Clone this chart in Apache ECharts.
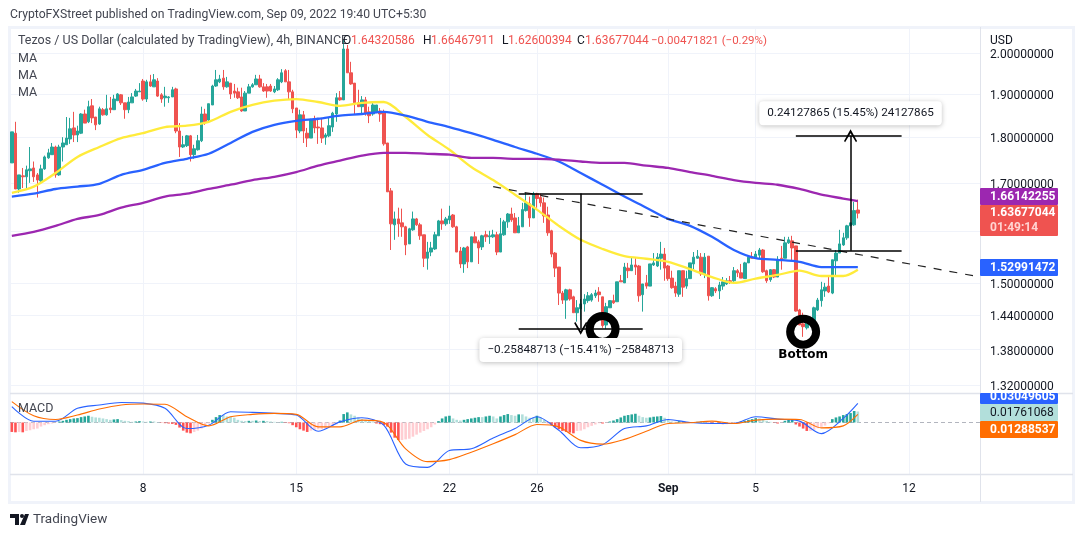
<!DOCTYPE html>
<html>
<head>
<meta charset="utf-8">
<title>Tezos / US Dollar</title>
<script src="https://cdn.jsdelivr.net/npm/echarts@6/dist/echarts.min.js"></script>
<style>
html, body { margin: 0; padding: 0; background: #fff; }
#chart { width: 1078px; height: 537px; }
</style>
</head>
<body>
<div id="chart"></div>
<script>
// 4h candles, Aug 2 - Sep 9
var opens = [
1.743,1.809,1.687,1.715,1.713,1.726,1.732,1.717,1.704,1.730,1.754,1.761,1.778,1.717,1.778,1.783,1.796,1.821,1.805,1.809,
1.853,1.835,1.872,1.846,1.830,1.863,1.851,1.867,1.863,1.884,1.898,1.879,1.863,1.879,1.895,1.905,1.931,1.888,1.929,1.917,
1.931,1.898,1.891,1.891,1.893,1.912,1.814,1.778,1.781,1.803,1.761,1.772,1.792,1.853,1.839,1.874,1.919,1.929,1.938,1.917,
1.926,1.907,1.905,1.893,1.860,1.902,1.917,1.922,1.936,1.917,1.917,1.919,1.905,1.910,1.929,1.956,1.929,1.905,1.867,1.814,
1.851,1.809,1.798,1.842,1.823,1.821,1.800,1.803,1.823,1.853,1.891,1.886,2.010,1.951,1.926,1.879,1.870,1.886,1.858,1.853,
1.858,1.860,1.858,1.787,1.683,1.613,1.625,1.617,1.609,1.575,1.603,1.625,1.613,1.593,1.547,1.559,1.565,1.591,1.621,1.615,
1.623,1.633,1.609,1.561,1.536,1.569,1.540,1.589,1.579,1.569,1.593,1.589,1.589,1.593,1.559,1.593,1.619,1.635,1.627,1.597,
1.609,1.642,1.656,1.627,1.677,1.669,1.658,1.633,1.601,1.557,1.530,1.481,1.468,1.487,1.474,1.445,1.452,1.461,1.467,1.468,
1.476,1.483,1.474,1.423,1.454,1.467,1.465,1.504,1.500,1.528,1.523,1.534,1.532,1.478,1.500,1.494,1.534,1.532,1.547,1.555,
1.532,1.509,1.494,1.479,1.523,1.494,1.508,1.536,1.547,1.549,1.517,1.551,1.476,1.489,1.485,1.494,1.498,1.504,1.504,1.523,
1.519,1.508,1.538,1.549,1.549,1.553,1.563,1.523,1.506,1.525,1.511,1.547,1.547,1.577,1.581,1.571,1.450,1.425,1.418,1.429,
1.429,1.450,1.467,1.485,1.494,1.481,1.542,1.557,1.573,1.587,1.611,1.613,1.6432
];
var closes = [
1.812,1.687,1.717,1.713,1.728,1.730,1.713,1.706,1.730,1.756,1.765,1.778,1.717,1.778,1.787,1.798,1.819,1.805,1.814,1.853,
1.832,1.870,1.844,1.828,1.865,1.851,1.865,1.863,1.888,1.900,1.879,1.863,1.881,1.893,1.907,1.907,1.888,1.929,1.919,1.934,
1.895,1.888,1.895,1.893,1.910,1.814,1.778,1.783,1.803,1.761,1.774,1.792,1.853,1.835,1.877,1.919,1.934,1.936,1.917,1.929,
1.900,1.902,1.891,1.860,1.902,1.917,1.922,1.936,1.917,1.907,1.907,1.907,1.912,1.934,1.951,1.929,1.905,1.865,1.816,1.851,
1.814,1.798,1.839,1.821,1.821,1.798,1.805,1.826,1.855,1.891,1.886,2.010,1.951,1.924,1.879,1.870,1.886,1.855,1.849,1.874,
1.874,1.853,1.785,1.681,1.615,1.625,1.615,1.609,1.573,1.605,1.625,1.613,1.591,1.547,1.559,1.567,1.593,1.621,1.615,1.625,
1.631,1.609,1.559,1.536,1.567,1.540,1.589,1.577,1.567,1.591,1.589,1.591,1.593,1.559,1.595,1.619,1.635,1.623,1.597,1.611,
1.644,1.658,1.627,1.677,1.667,1.658,1.631,1.597,1.555,1.528,1.481,1.468,1.487,1.470,1.445,1.454,1.461,1.470,1.476,1.478,
1.481,1.478,1.422,1.456,1.467,1.463,1.502,1.502,1.530,1.523,1.534,1.530,1.476,1.498,1.494,1.536,1.538,1.549,1.555,1.528,
1.508,1.491,1.481,1.523,1.492,1.508,1.538,1.549,1.551,1.517,1.549,1.476,1.491,1.485,1.496,1.502,1.504,1.502,1.523,1.519,
1.509,1.538,1.549,1.547,1.555,1.563,1.521,1.504,1.525,1.511,1.544,1.546,1.577,1.583,1.567,1.448,1.423,1.420,1.427,1.427,
1.454,1.468,1.487,1.492,1.483,1.544,1.557,1.575,1.587,1.611,1.617,1.642,1.6368
];
var lows = [
1.743,1.687,1.679,1.689,1.685,1.700,1.702,1.669,1.702,1.728,1.752,1.761,1.711,1.715,1.746,1.783,1.785,1.789,1.789,1.807,
1.832,1.832,1.832,1.816,1.828,1.849,1.849,1.855,1.863,1.884,1.874,1.842,1.855,1.879,1.893,1.905,1.884,1.881,1.917,1.917,
1.893,1.879,1.870,1.879,1.893,1.809,1.756,1.776,1.778,1.746,1.752,1.770,1.789,1.828,1.837,1.874,1.917,1.926,1.910,1.915,
1.888,1.891,1.888,1.858,1.860,1.902,1.915,1.922,1.915,1.905,1.891,1.905,1.902,1.907,1.926,1.929,1.886,1.855,1.798,1.809,
1.787,1.778,1.798,1.809,1.785,1.787,1.783,1.800,1.812,1.835,1.884,1.886,1.951,1.922,1.853,1.870,1.853,1.849,1.832,1.849,
1.855,1.835,1.781,1.681,1.563,1.583,1.589,1.589,1.553,1.575,1.601,1.611,1.583,1.530,1.525,1.551,1.563,1.591,1.603,1.611,
1.615,1.607,1.559,1.528,1.519,1.528,1.540,1.577,1.536,1.563,1.579,1.575,1.587,1.553,1.559,1.591,1.607,1.619,1.597,1.597,
1.609,1.640,1.609,1.627,1.648,1.650,1.617,1.591,1.549,1.511,1.459,1.461,1.434,1.467,1.445,1.429,1.432,1.447,1.463,1.465,
1.472,1.465,1.418,1.416,1.454,1.461,1.465,1.502,1.500,1.509,1.523,1.515,1.465,1.447,1.489,1.494,1.532,1.530,1.525,1.504,
1.504,1.489,1.474,1.474,1.474,1.489,1.508,1.526,1.546,1.513,1.509,1.467,1.474,1.481,1.470,1.487,1.496,1.498,1.502,1.511,
1.509,1.508,1.538,1.547,1.547,1.547,1.519,1.500,1.502,1.509,1.511,1.525,1.547,1.575,1.542,1.447,1.423,1.402,1.415,1.423,
1.423,1.448,1.456,1.474,1.481,1.479,1.511,1.557,1.571,1.583,1.611,1.611,1.6260
];
var highs = [
1.812,1.835,1.717,1.732,1.737,1.778,1.746,1.721,1.739,1.759,1.774,1.787,1.781,1.783,1.800,1.846,1.844,1.858,1.826,1.855,
1.863,1.884,1.888,1.846,1.870,1.867,1.898,1.893,1.898,1.902,1.900,1.879,1.893,1.902,1.912,1.926,1.936,1.934,1.946,1.948,
1.938,1.902,1.917,1.895,1.917,1.915,1.832,1.803,1.805,1.805,1.783,1.805,1.870,1.865,1.877,1.922,1.958,1.946,1.958,1.941,
1.926,1.924,1.915,1.915,1.907,1.924,1.926,1.946,1.946,1.926,1.924,1.924,1.919,1.938,1.960,1.960,1.958,1.910,1.867,1.863,
1.860,1.821,1.842,1.849,1.844,1.844,1.809,1.844,1.858,1.902,1.907,2.033,2.020,1.978,1.926,1.910,1.895,1.893,1.870,1.879,
1.874,1.867,1.863,1.787,1.689,1.640,1.648,1.646,1.611,1.607,1.640,1.627,1.617,1.593,1.579,1.579,1.599,1.623,1.646,1.629,
1.652,1.635,1.611,1.569,1.569,1.571,1.589,1.599,1.583,1.593,1.601,1.601,1.603,1.599,1.627,1.623,1.637,1.648,1.637,1.629,
1.658,1.679,1.671,1.681,1.679,1.677,1.669,1.650,1.603,1.559,1.530,1.485,1.489,1.489,1.476,1.468,1.470,1.479,1.483,1.481,
1.487,1.492,1.474,1.463,1.468,1.478,1.502,1.515,1.538,1.538,1.549,1.547,1.534,1.498,1.515,1.536,1.557,1.557,1.579,1.567,
1.534,1.523,1.502,1.523,1.523,1.523,1.538,1.559,1.563,1.557,1.557,1.551,1.492,1.492,1.502,1.511,1.509,1.513,1.530,1.526,
1.536,1.540,1.553,1.559,1.561,1.567,1.565,1.525,1.526,1.526,1.551,1.571,1.589,1.589,1.591,1.571,1.452,1.445,1.429,1.438,
1.456,1.472,1.502,1.500,1.511,1.544,1.563,1.603,1.597,1.613,1.617,1.660,1.6647
];

// moving averages and MACD lines, read every sixth candle
var lineIdx = [0,6,12,18,24,30,36,42,48,54,60,66,72,78,84,90,96,102,108,114,120,126,132,138,144,150,156,162,168,174,180,186,192,198,204,210,216,222,228,232];
var ma50 = [1.679,1.692,1.721,1.756,1.778,1.798,1.809,1.823,1.826,1.835,1.858,1.874,1.884,1.888,1.881,1.872,1.879,1.881,1.846,1.805,1.772,1.734,1.706,1.675,1.644,1.611,1.583,1.565,1.551,1.546,1.540,1.526,1.511,1.500,1.508,1.515,1.523,1.513,1.513,1.525];
var ma100 = [1.671,1.677,1.687,1.692,1.698,1.717,1.728,1.743,1.752,1.763,1.787,1.812,1.828,1.837,1.842,1.849,1.853,1.858,1.849,1.835,1.823,1.809,1.794,1.778,1.763,1.746,1.721,1.696,1.671,1.648,1.625,1.611,1.589,1.563,1.547,1.544,1.540,1.530,1.530,1.5299];
var ma200 = [1.591,1.599,1.611,1.625,1.633,1.648,1.658,1.671,1.677,1.687,1.696,1.706,1.713,1.723,1.737,1.748,1.759,1.765,1.765,1.763,1.761,1.754,1.754,1.752,1.752,1.750,1.746,1.743,1.743,1.737,1.732,1.723,1.715,1.706,1.700,1.696,1.687,1.675,1.667,1.6614];
var macdLine = [.0254,.002,.002,.0227,.028,.032,.031,.0227,-.0097,-.0043,.0173,.0162,.0146,.0119,-.014,.001,.0076,-.0043,-.0664,-.0718,-.0448,-.0421,-.0248,-.0097,.0092,-.0124,-.0405,-.0356,-.0097,-.0054,.0049,0,-.0016,-.0016,.0092,.0054,.0022,-.0178,.0065,.0305];
var signalLine = [.0335,.0108,.0049,.0119,.0216,.0281,.0297,.0292,.0092,-.0054,.0092,.013,.0146,.013,-.007,-.007,.0038,0,-.0421,-.0626,-.0594,-.0475,-.034,-.0194,-.0032,-.007,-.0286,-.0346,-.027,-.014,-.0016,-.0005,.0022,-.0016,.0038,.0054,.0049,-.0086,-.0054,.0129];
var histValues = [
-.0151,-.0157,-.0151,-.0157,-.0135,-.0124,-.0108,-.0097,-.0065,-.0043,-.0027,-.0016,-.0005,.0016,.0027,.0043,.0054,.0065,.007,.0086,
.0097,.0108,.0092,.0081,.0076,.0065,.0054,.0043,.0049,.0054,.0038,.0027,.0022,.0011,.0016,.0022,.0016,.0011,.0016,.0016,
.0005,-.0005,-.0011,-.0016,-.0022,-.0038,-.0081,-.013,-.0162,-.0173,-.0151,-.013,-.0097,-.0054,-.0016,.0043,.0086,.0119,.0119,.0097,
.0097,.0076,.0043,.0027,.0022,.0027,.0027,.0032,.0022,.0027,.0022,.0016,.0011,.0005,.0011,-.0005,-.0011,-.0043,-.0076,-.0108,
-.013,-.0151,-.013,-.0119,-.0108,-.0108,-.0097,-.0076,-.0054,-.0032,.0032,.0135,.0162,.013,.0108,.0081,.0054,.0043,.0032,.0016,
-.0016,-.0027,-.0043,-.0065,-.0162,-.0243,-.0281,-.0281,-.027,-.0259,-.0227,-.0194,-.0162,-.0135,-.0108,-.0076,-.0032,.0022,.0065,.0097,
.0108,.0065,.0043,.0032,.0043,.0054,.0065,.0076,.0086,.0086,.0097,.0108,.0097,.0065,.0097,.0119,.0135,.0119,.0108,.013,
.013,.0097,.0076,.0076,.0108,.0081,.0043,-.0011,-.0043,-.0081,-.0108,-.0135,-.0151,-.0162,-.0173,-.0135,-.013,-.0108,-.0076,-.0054,
-.0032,-.0011,-.0016,-.0005,.0016,.0032,.0054,.0081,.0108,.0119,.013,.014,.0108,.0086,.0076,.0081,.0092,.0097,.0103,.0076,
.0043,.0016,.0011,.0022,.0005,-.0005,-.0005,.0005,.0011,.0016,.0011,-.0005,-.0016,-.0016,-.0022,-.0027,-.0027,-.0016,-.0011,.0003,
.0016,.0027,.0043,.0054,.007,.0065,.0043,.0027,.0011,-.0005,-.0016,-.0005,.0027,.0043,.0054,-.0032,-.0065,-.0097,-.0135,-.0135,
-.0119,-.0092,-.007,-.0049,-.0011,.0054,.0081,.0097,.0119,.0135,.0151,.0184,.0176
];

// axis ticks
var priceTicks = [2, 1.9, 1.8, 1.7, 1.6, 1.5, 1.44, 1.38, 1.32];
var timeTickIdx = [36, 78, 120, 144, 180, 204, 246];
var timeTickNames = ['8', '15', '22', '26', 'Sep', '5', '12'];

// drawings on the price pane, as [candle index, price]
var trendLine = [[132, 1.692], [264, 1.513]];
var dropRange = [1.6776, 1.417];
var riseRange = [1.5617, 1.803];
var ringPoints = [[162, 1.416], [217, 1.411]];

var categories = [];
for (var i = 0; i < 266; i++) { categories.push(String(i)); }

function pairs(values) {
  return values.map(function(v, i) { return [lineIdx[i], v]; });
}
function histColor(i) {
  var v = histValues[i], prev = i > 0 ? histValues[i - 1] : 0;
  if (v >= 0) { return v > prev ? '#26a69a' : '#b2dfdb'; }
  return v < prev ? '#ff5252' : '#ffcdd2';
}
function seg(x1, y1, x2, y2, extra, endExtra) {
  return [Object.assign({ coord: [x1, y1] }, extra || {}), Object.assign({ coord: [x2, y2] }, endExtra || {})];
}

var font = 'Roboto, sans-serif';
var ink = '#131722';
var gridColor = '#f0f3fa';
var frameColor = '#e0e3eb';
var chevron = 'path://M-5 6 L0 0 L5 6 L4.2 6.7 L0 2 L-4.2 6.7Z';

var gridLines = priceTicks.map(function(p) {
  return { yAxis: p, label: { formatter: p.toFixed(8) } };
}).concat(timeTickIdx.map(function(t) {
  return { xAxis: t, label: { show: false } };
}));

function textEl(x, y, text, size, color, weight, align) {
  return {
    type: 'text', z: 50, x: x, y: y,
    style: { text: text, font: (weight || 'normal') + ' ' + size + 'px ' + font, fill: color, verticalAlign: 'middle', align: align || 'left' }
  };
}
function tag(y, h, color) {
  return { type: 'rect', z: 40, shape: { x: 980, y: y, width: 78, height: h, r: 1 }, style: { fill: color } };
}

var graphics = [
  { type: 'rect', z: -1, shape: { x: 9.5, y: 27.5, width: 1064, height: 475 }, style: { fill: 'none', stroke: gridColor, lineWidth: 3 } },
  { type: 'line', z: 30, shape: { x1: 980.5, y1: 27, x2: 980.5, y2: 502 }, style: { stroke: frameColor } },
  { type: 'line', z: 30, shape: { x1: 10, y1: 393.5, x2: 1073, y2: 393.5 }, style: { stroke: frameColor, lineWidth: 1.5 } },
  { type: 'line', z: 30, shape: { x1: 10, y1: 474.5, x2: 1073, y2: 474.5 }, style: { stroke: frameColor, lineWidth: 1.5 } },
  textEl(10, 15, 'CryptoFXStreet published on TradingView.com, Sep 09, 2022 19:40 UTC+5:30', 12.2, '#434651'),
  textEl(18, 41, 'Tezos / US Dollar (calculated by TradingView), 4h, BINANCE', 12.5, '#434651'),
  textEl(343, 41, 'O', 12, ink),
  textEl(351, 41, '1.64320586', 12, '#ef5350'),
  textEl(423, 41, 'H', 12, ink),
  textEl(431, 41, '1.66467911', 12, '#ef5350'),
  textEl(502, 41, 'L', 12, ink),
  textEl(508, 41, '1.62600394', 12, '#ef5350'),
  textEl(577, 41, 'C', 12, ink),
  textEl(585, 41, '1.63677044', 12, '#ef5350'),
  textEl(651, 41, '\u22120.00471821 (\u22120.29%)', 11.5, '#ef5350'),
  textEl(18, 59, 'MA', 12.5, '#434651'),
  textEl(18, 76, 'MA', 12.5, '#434651'),
  textEl(18, 93, 'MA', 12.5, '#434651'),
  textEl(18, 409, 'MACD', 12.5, '#434651'),
  textEl(990, 41, 'USD', 12, ink),
  tag(188, 17, '#9c27b0'),
  textEl(990, 197, '1.66142255', 12, '#fff', 'bold'),
  tag(205, 31, '#ef5350'),
  textEl(990, 213, '1.63677044', 12, '#fff', 'bold'),
  textEl(990, 228, '01:49:14', 12, '#ffd4d2', 'bold'),
  tag(259, 17, '#2962ff'),
  textEl(990, 268, '1.52991472', 12, '#fff', 'bold'),
  tag(393, 11, '#2962ff'),
  textEl(990, 397, '0.03049605', 12, '#fff', 'bold'),
  { type: 'rect', z: 55, shape: { x: 981, y: 391, width: 78, height: 2 }, style: { fill: '#fff' } },
  tag(404, 17, '#b2dfdb'),
  textEl(990, 413, '0.01761068', 12, ink),
  tag(421, 17, '#ff6d00'),
  textEl(990, 430, '0.01288537', 12, '#fff', 'bold'),
  { type: 'polygon', z: 50, shape: { points: [[10, 514], [19, 514], [19, 525], [15, 525], [15, 518], [10, 518]] }, style: { fill: ink } },
  { type: 'circle', z: 50, shape: { cx: 22, cy: 516, r: 2 }, style: { fill: ink } },
  { type: 'polygon', z: 50, shape: { points: [[25, 514], [29, 514], [25, 525], [20, 525]] }, style: { fill: ink } },
  textEl(33, 520, 'TradingView', 13.5, '#434651')
];

var option = {
  animation: false,
  backgroundColor: '#fff',
  textStyle: { fontFamily: font },
  graphic: graphics,
  grid: [
    { left: 10, right: 98, top: 27, height: 366 },
    { left: 10, right: 98, top: 393, height: 81 }
  ],
  xAxis: [
    { type: 'category', gridIndex: 0, data: categories, axisLine: { show: false }, axisTick: { show: false }, axisLabel: { show: false }, splitLine: { show: false } },
    {
      type: 'category', gridIndex: 1, data: categories,
      axisLine: { show: false }, axisTick: { show: false }, splitLine: { show: false },
      axisLabel: {
        interval: function(i) { return timeTickIdx.indexOf(i) >= 0; },
        formatter: function(v, i) {
          var name = timeTickNames[timeTickIdx.indexOf(i)];
          return name === 'Sep' ? '{m|Sep}' : name;
        },
        rich: { m: { fontWeight: 'bold', color: ink, fontSize: 12 } },
        color: ink, fontSize: 12, margin: 9
      }
    }
  ],
  yAxis: [
    { type: 'log', gridIndex: 0, min: 1.3069, max: 2.0661, axisLine: { show: false }, axisTick: { show: false }, axisLabel: { show: false }, splitLine: { show: false } },
    { type: 'value', gridIndex: 1, min: -0.0824, max: 0.0472, axisLine: { show: false }, axisTick: { show: false }, axisLabel: { show: false }, splitLine: { show: false } }
  ],
  series: [
    {
      type: 'candlestick', name: 'XTZUSD', xAxisIndex: 0, yAxisIndex: 0, z: 3, barWidth: 3,
      data: opens.map(function(o, i) { return [o, closes[i], lows[i], highs[i]]; }),
      itemStyle: { color: '#26a69a', color0: '#ef5350', borderColor: '#26a69a', borderColor0: '#ef5350', borderWidth: 1 },
      markLine: {
        silent: true, symbol: 'none', z: 1, animation: false,
        lineStyle: { color: gridColor, type: 'solid', width: 1 },
        label: { position: 'end', distance: 10, offset: [0, 2], color: ink, fontSize: 12, fontFamily: font },
        data: gridLines
      }
    },
    { type: 'line', name: 'MA50', xAxisIndex: 0, yAxisIndex: 0, z: 4, smooth: 0.3, symbol: 'none', lineStyle: { color: '#ffeb3b', width: 2.3 }, data: pairs(ma50) },
    { type: 'line', name: 'MA100', xAxisIndex: 0, yAxisIndex: 0, z: 4, smooth: 0.3, symbol: 'none', lineStyle: { color: '#2962ff', width: 2.3 }, data: pairs(ma100) },
    { type: 'line', name: 'MA200', xAxisIndex: 0, yAxisIndex: 0, z: 4, smooth: 0.3, symbol: 'none', lineStyle: { color: '#9c27b0', width: 2.3 }, data: pairs(ma200) },
    {
      type: 'scatter', name: 'Bottom', xAxisIndex: 0, yAxisIndex: 0, z: 6, symbol: 'circle', symbolSize: 26, data: ringPoints,
      itemStyle: { color: 'rgba(0,0,0,0)', borderColor: '#000', borderWidth: 8, opacity: 1 },
      label: {
        show: true, position: 'bottom', distance: 0, color: '#000', fontSize: 12, fontWeight: 'bold', fontFamily: 'DejaVu Sans',
        formatter: function(p) { return p.dataIndex === 1 ? 'Bottom' : ''; }
      }
    },
    {
      type: 'line', name: 'drawings', xAxisIndex: 0, yAxisIndex: 0, z: 5, symbol: 'none', lineStyle: { width: 0 }, data: [],
      markLine: {
        silent: true, animation: false, symbol: 'none', z: 5,
        label: { show: false },
        lineStyle: { color: '#000', width: 1.5, type: 'solid' },
        data: [
          seg(trendLine[0][0], trendLine[0][1], trendLine[1][0], trendLine[1][1], { lineStyle: { type: [8, 8], width: 1.2, color: '#222' } }),
          seg(139, dropRange[0], 173, dropRange[0]),
          seg(139, dropRange[1], 173, dropRange[1]),
          seg(156, dropRange[0], 156, dropRange[1], null, { symbol: chevron, symbolSize: 13 }),
          seg(215, riseRange[0], 244, riseRange[0]),
          seg(215, riseRange[1], 244, riseRange[1]),
          seg(229.5, riseRange[0], 229.5, riseRange[1], null, { symbol: chevron, symbolSize: 13 })
        ]
      },
      markPoint: {
        silent: true, animation: false, symbol: 'circle', symbolSize: 0, z: 7,
        label: {
          show: true, position: 'inside', color: ink, fontSize: 11.7, fontFamily: font,
          backgroundColor: '#fff', borderRadius: 4, padding: [6, 8],
          shadowColor: 'rgba(0,0,0,0.25)', shadowBlur: 5, shadowOffsetY: 1
        },
        data: [
          { coord: [156, 1.379], value: '\u22120.25848713 (\u221215.41%) \u221225848713', label: { formatter: '{c}' } },
          { coord: [230, 1.855], value: '0.24127865 (15.45%) 24127865', label: { formatter: '{c}' } }
        ]
      }
    },
    {
      type: 'bar', name: 'Histogram', xAxisIndex: 1, yAxisIndex: 1, barWidth: 2.6, z: 2,
      data: histValues.map(function(v, i) { return { value: v, itemStyle: { color: histColor(i) } }; }),
      markLine: {
        silent: true, animation: false, symbol: 'none', z: 1, label: { show: false },
        lineStyle: { color: '#b2b5be', type: [4, 3], width: 1 },
        data: [{ yAxis: 0 }]
      }
    },
    {
      type: 'line', name: 'grid', xAxisIndex: 1, yAxisIndex: 1, symbol: 'none', lineStyle: { width: 0 }, data: [],
      markLine: {
        silent: true, animation: false, symbol: 'none', z: 1, label: { show: false },
        lineStyle: { color: gridColor, type: 'solid', width: 1 },
        data: timeTickIdx.map(function(t) { return { xAxis: t }; })
      }
    },
    { type: 'line', name: 'MACD', xAxisIndex: 1, yAxisIndex: 1, z: 4, smooth: 0.3, symbol: 'none', lineStyle: { color: '#2962ff', width: 1.1 }, data: pairs(macdLine) },
    { type: 'line', name: 'Signal', xAxisIndex: 1, yAxisIndex: 1, z: 4, smooth: 0.3, symbol: 'none', lineStyle: { color: '#ff6d00', width: 1.1 }, data: pairs(signalLine) }
  ]
};

var myChart = echarts.init(document.getElementById('chart'));
myChart.setOption(option);
</script>
</body>
</html>
